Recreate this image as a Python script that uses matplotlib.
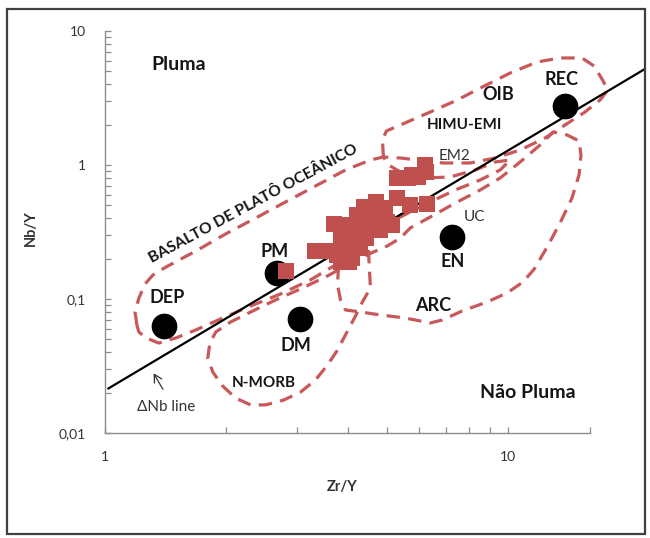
import matplotlib
matplotlib.use("Agg")
import matplotlib.pyplot as plt
from matplotlib.patches import Rectangle
from matplotlib.ticker import FixedLocator, FixedFormatter, NullFormatter

plt.rcParams['font.family'] = ['Lato', 'DejaVu Sans']

# ---- reference reservoirs (Zr/Y, Nb/Y) ----
REF_NAMES = ['DEP', 'PM', 'DM', 'EN', 'REC']
REF_ZR_Y = [1.397, 2.676, 3.043, 7.25, 13.84]
REF_NB_Y = [0.0632, 0.157, 0.0709, 0.289, 2.75]

# ---- samples ----
SAMPLE_ZR_Y = [5.31, 5.65, 5.79, 6.21, 6.27, 5.99, 5.31, 5.72, 6.30, 4.40, 4.61,
               4.82, 4.23, 3.95, 3.69, 4.06, 4.35, 4.61, 3.84, 4.18, 3.95, 3.77,
               4.11, 3.84, 3.31, 3.56, 4.30, 4.96, 4.45, 2.81, 4.02, 5.02, 5.16,
               4.82, 4.70]
SAMPLE_NB_Y = [0.800, 0.800, 0.842, 1.00, 0.887, 0.814, 0.567, 0.503, 0.512, 0.486, 0.446,
               0.424, 0.424, 0.357, 0.363, 0.316, 0.339, 0.376, 0.276, 0.276, 0.232, 0.213,
               0.202, 0.189, 0.228, 0.228, 0.240, 0.478, 0.285, 0.162, 0.189, 0.376, 0.357,
               0.327, 0.530]

# ---- Delta Nb line ----
DNB_ZR_Y = [1.02, 21.8]
DNB_NB_Y = [0.0215, 5.19]

# ---- compositional fields ----
OPB_ZR_Y = [1.200, 1.187, 1.214, 1.256, 1.315, 1.416, 1.680, 1.993, 2.365, 2.806, 3.329,
            3.950, 4.555, 4.905, 5.047, 5.403, 6.231, 7.185, 8.286, 9.287, 10.12, 9.555,
            8.526, 7.393, 6.411, 5.719, 5.105, 4.555, 4.181, 3.839, 3.235, 2.727, 2.298,
            1.959, 1.680, 1.499, 1.360, 1.263, 1.214]
OPB_NB_Y = [0.0640, 0.0800, 0.1017, 0.129, 0.151, 0.173, 0.228, 0.306, 0.402, 0.530, 0.697,
            0.918, 1.090, 1.147, 1.0, 0.887, 0.800, 0.814, 0.918, 1.053, 1.090, 0.918,
            0.773, 0.651, 0.530, 0.446, 0.376, 0.300, 0.240, 0.189, 0.139, 0.109, 0.0887,
            0.0721, 0.0587, 0.0512, 0.0469, 0.0512, 0.0567]

OIB_ZR_Y = [4.905, 4.877, 4.989, 5.403, 6.411, 7.478, 8.526, 10.12, 11.80, 13.45, 15.25,
            16.33, 17.09, 17.68, 16.90, 15.51, 13.84, 12.35, 10.71, 9.287, 8.053, 6.904,
            5.954, 5.403]
OIB_NB_Y = [1.147, 1.537, 1.794, 1.989, 2.486, 3.056, 3.75, 4.86, 5.87, 6.29, 6.29,
            5.48, 4.38, 3.63, 3.056, 2.486, 1.989, 1.590, 1.294, 1.128, 1.035, 1.035,
            1.090, 1.128]

ARC_ZR_Y = [3.795, 3.774, 3.839, 3.950, 4.302, 4.822, 5.559, 6.411, 6.865, 7.693, 8.872,
            9.943, 10.89, 11.60, 12.49, 13.45, 14.40, 14.99, 15.16, 14.99, 14.00, 12.93,
            12.00, 10.71, 9.555, 8.526, 7.393, 6.411, 5.719, 5.403, 5.02, 4.63, 4.302,
            3.950]
ARC_NB_Y = [0.176, 0.127, 0.0984, 0.0828, 0.0800, 0.0760, 0.0721, 0.0662, 0.0697, 0.0814, 0.0950,
            0.111, 0.134, 0.167, 0.244, 0.369, 0.567, 0.842, 1.187, 1.510, 1.675, 1.763,
            1.410, 1.053, 0.800, 0.651, 0.520, 0.409, 0.339, 0.285, 0.249, 0.224, 0.202,
            0.186]

NMORB_ZR_Y = [4.503, 4.529, 4.555, 4.351, 4.157, 3.972, 3.774, 3.565, 3.329, 3.056, 2.774,
              2.503, 2.298, 2.110, 1.959, 1.851, 1.799, 1.820, 1.883, 2.050, 2.298, 2.650,
              3.056, 3.524, 3.950, 4.302]
NMORB_NB_Y = [0.232, 0.165, 0.121, 0.0950, 0.0721, 0.0558, 0.0416, 0.0322, 0.0249, 0.0202, 0.0176,
              0.0162, 0.0162, 0.0182, 0.0224, 0.0285, 0.0363, 0.0469, 0.0567, 0.0674, 0.0800, 0.0984,
              0.119, 0.146, 0.176, 0.209]

FIELDS = [(OPB_ZR_Y, OPB_NB_Y), (OIB_ZR_Y, OIB_NB_Y),
          (ARC_ZR_Y, ARC_NB_Y), (NMORB_ZR_Y, NMORB_NB_Y)]

# ---- annotations: text, Zr/Y, Nb/Y, size, weight ----
LABELS = [
    ('Pluma', 1.524, 5.67, 14, 'bold'),
    ('Não Pluma', 11.2, 0.0201, 14, 'bold'),
    ('DEP', 1.426, 0.103, 13, 'bold'),
    ('PM', 2.63, 0.2254, 13, 'bold'),
    ('DM', 2.982, 0.0446, 13, 'bold'),
    ('EN', 7.28, 0.190, 13, 'bold'),
    ('ARC', 6.50, 0.0891, 13, 'bold'),
    ('OIB', 9.46, 3.33, 13, 'bold'),
    ('REC', 13.58, 4.36, 13, 'bold'),
    ('HIMU-EMI', 7.78, 1.99, 11, 'bold'),
    ('N-MORB', 2.471, 0.0235, 11, 'bold'),
    ('EM2', 7.35, 1.167, 11, 'normal'),
    ('UC', 8.25, 0.411, 11, 'normal'),
    ('ΔNb line', 1.421, 0.0157, 11, 'normal'),
]
PLATEAU_LABEL = ('BASALTO DE PLATÔ OCEÂNICO', 2.33, 0.51)

FIELD_COLOR = '#c9585a'
SAMPLE_COLOR = '#c0504d'

fig = plt.figure(figsize=(6.5, 5.38), dpi=100)
ax = fig.add_axes([0.1615, 0.1952, 0.7462, 0.7472])
ax.set_xscale('log')
ax.set_yscale('log')
ax.set_xlim(1, 15.96)
ax.set_ylim(0.01, 10)

for xs, ys in FIELDS:
    ax.plot(list(xs) + [xs[0]], list(ys) + [ys[0]], color=FIELD_COLOR, lw=2.3,
            dashes=(4.2, 2.6), dash_capstyle='butt', solid_joinstyle='round',
            clip_on=False, zorder=2)

ax.plot(DNB_ZR_Y, DNB_NB_Y, color='black', lw=1.6, clip_on=False, zorder=3)

ax.plot(REF_ZR_Y, REF_NB_Y, linestyle='none', marker='o', markersize=17.5,
        color='black', zorder=4)
ax.plot(SAMPLE_ZR_Y, SAMPLE_NB_Y, linestyle='none', marker='s', markersize=11,
        color=SAMPLE_COLOR, markeredgewidth=0, zorder=5)

for text, x, y, size, weight in LABELS:
    ax.text(x, y, text, ha='center', va='center', fontsize=size,
            fontweight=weight, color='#151515' if weight == 'bold' else '#333333',
            zorder=6)

ax.text(PLATEAU_LABEL[1], PLATEAU_LABEL[2], PLATEAU_LABEL[0], ha='center',
        va='center', rotation=28.3, rotation_mode='anchor', fontsize=11.2,
        fontweight='bold', color='#151515', zorder=6)

ax.annotate('', xy=(1.320, 0.0279), xytext=(1.392, 0.0212),
            arrowprops=dict(arrowstyle='->,head_length=0.55,head_width=0.3',
                            color='#333333', lw=0.9, shrinkA=0, shrinkB=0))

# axes styling
for side in ('top', 'right'):
    ax.spines[side].set_visible(False)
for side in ('left', 'bottom'):
    ax.spines[side].set_color('#8c8c8c')
    ax.spines[side].set_linewidth(1.0)

ax.xaxis.set_major_locator(FixedLocator([1, 10]))
ax.xaxis.set_major_formatter(FixedFormatter(['1', '10']))
ax.xaxis.set_minor_locator(FixedLocator([2, 3, 4, 5, 6, 7, 8, 9, 15.96]))
ax.xaxis.set_minor_formatter(NullFormatter())

ax.yaxis.set_major_locator(FixedLocator([0.01, 0.1, 1, 10]))
ax.yaxis.set_major_formatter(FixedFormatter(['0,01', '0,1', '1', '10']))
ax.yaxis.set_minor_locator(FixedLocator([m * 10.0 ** e for e in (-2, -1, 0)
                                         for m in range(2, 10)]))
ax.yaxis.set_minor_formatter(NullFormatter())

ax.tick_params(axis='both', which='both', direction='in', length=4,
               width=0.9, color='#8c8c8c', labelsize=10, labelcolor='#333333')
ax.tick_params(axis='y', which='both', pad=14)
ax.tick_params(axis='x', which='both', pad=13)

fig.text(341.7 / 650, 1 - 486.7 / 538, 'Zr/Y', ha='center', va='center',
         fontsize=10.5, fontweight='bold', color='#333333')
fig.text(31 / 650, 1 - 228 / 538, 'Nb/Y', ha='center', va='center',
         rotation=90, fontsize=10.5, fontweight='bold', color='#333333')

fig.patches.append(Rectangle((7 / 650, 1 - 534 / 538), 638 / 650, 525 / 538,
                             transform=fig.transFigure, fill=False,
                             edgecolor='#404040', lw=1.6))

fig.savefig('out.png', dpi=100, facecolor='white')
